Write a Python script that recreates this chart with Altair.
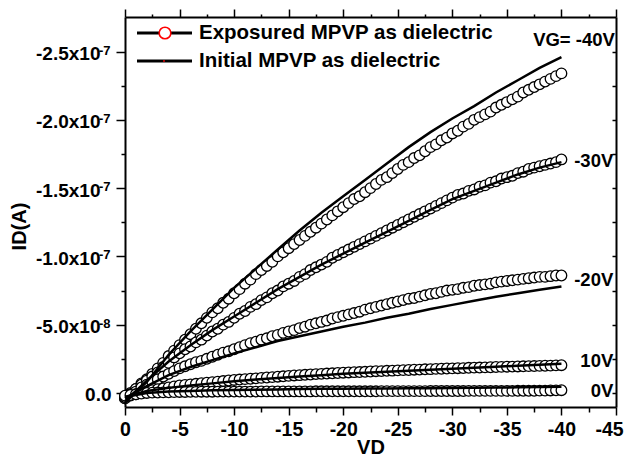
import altair as alt
import pandas as pd

FONT = "Liberation Sans"

# ---------------- data ----------------
# drain voltage sweeps
VD_EXP = [-0.5 * i for i in range(81)]     # 0 ... -40 V, step 0.5 V (circles)
VD_INI = [-2.0 * i for i in range(21)]     # 0 ... -40 V, step 2 V (lines)

# |ID| in nA (positive = current drawn upward, i.e. ID negative)
EXP_M40 = [-4, 0, 3, 7, 10, 14, 18, 22, 27, 31, 35, 39, 43, 47, 51, 55, 59, 62, 66, 69,
           73, 76, 80, 83, 87, 90, 93, 96, 100, 103, 106, 109, 112, 115, 118, 121, 124, 127, 130, 133,
           136, 139, 142, 144, 147, 150, 153, 156, 158, 161, 164, 167, 169, 172, 174, 177, 180, 182, 185, 187,
           190, 192, 195, 197, 200, 202, 204, 206, 209, 211, 213, 215, 217, 220, 222, 224, 226, 228, 230, 232,
           234]
EXP_M30 = [-4, -1, 3, 6, 9, 12, 15, 19, 22, 26, 29, 32, 34, 37, 39, 42, 45, 47, 50, 52,
           55, 58, 60, 63, 65, 68, 70, 73, 75, 78, 80, 82, 85, 87, 90, 92, 94, 96, 99, 101,
           103, 105, 107, 109, 111, 113, 115, 117, 119, 121, 123, 125, 127, 129, 131, 133, 135, 137, 139, 141,
           143, 145, 146, 148, 149, 151, 152, 154, 155, 157, 158, 159, 161, 162, 164, 165, 166, 167, 168, 169,
           171]
EXP_M20 = [-3, -1, 1, 4, 6, 8, 10, 12, 14, 16, 18, 19.5, 21, 22.5, 23.5, 25, 26.5, 28, 29.5, 30.5,
           32, 33.5, 35, 36.5, 37.5, 39, 40, 41.5, 42.5, 44, 45, 46, 47.5, 48.5, 50, 51, 52, 53, 54.5, 55.5,
           56.5, 57.5, 58.5, 59.5, 61, 62, 63, 64, 65, 66, 67, 68, 69, 69.5, 70.5, 71.5, 72.5, 73, 74, 75,
           75.5, 76, 77, 77.5, 78.5, 79, 79.5, 80, 81, 81.5, 82, 82.5, 83, 83.5, 84, 84.5, 85, 85, 85.5, 86,
           86]
EXP_M10 = [-3, -2, -1, 0, 1, 2, 2.7, 3.4, 4.1, 4.8, 5.5, 5.9, 6.3, 6.7, 7.1, 7.5, 7.9, 8.3, 8.7, 9.1,
           9.5, 9.8, 10.1, 10.4, 10.7, 11, 11.3, 11.6, 11.9, 12.2, 12.5, 12.8, 13.0, 13.3, 13.5, 13.8, 14.0, 14.2, 14.4, 14.6,
           14.8, 15.0, 15.2, 15.3, 15.5, 15.7, 15.9, 16.0, 16.2, 16.3, 16.5, 16.7, 16.8, 17.0, 17.1, 17.3, 17.4, 17.6, 17.7, 17.9,
           18.0, 18.1, 18.2, 18.4, 18.5, 18.6, 18.7, 18.8, 19.0, 19.1, 19.2, 19.3, 19.4, 19.5, 19.6, 19.7, 19.8, 19.9, 20.0, 20.2,
           20.3]
EXP_0 = [-2, -1.5, -1, -0.5, 0, 0.2, 0.3, 0.4, 0.5, 0.6, 0.7, 0.7, 0.8, 0.8, 0.9, 0.9, 0.9, 1.0, 1.0, 1.0,
         1.0, 1.0, 1.0, 1.0, 1.0, 1.1, 1.1, 1.1, 1.1, 1.1, 1.1, 1.1, 1.1, 1.1, 1.1, 1.2, 1.2, 1.2, 1.2, 1.2,
         1.2, 1.2, 1.2, 1.2, 1.2, 1.2, 1.2, 1.3, 1.3, 1.3, 1.3, 1.3, 1.3, 1.3, 1.3, 1.3, 1.4, 1.4, 1.4, 1.4,
         1.4, 1.4, 1.4, 1.5, 1.5, 1.5, 1.5, 1.5, 1.5, 1.5, 1.5, 1.5, 1.6, 1.6, 1.6, 1.6, 1.7, 1.7, 1.8, 1.9,
         2.0]

INI_M40 = [-7, 8, 28, 45, 61, 77, 91, 105, 119, 132, 144, 156, 168, 180, 191, 201, 210, 220, 229, 238, 246]
INI_M30 = [-6, 9, 23, 35, 46, 56, 66, 76, 85, 94, 102, 110, 118, 126, 134, 142, 148, 154, 160, 165, 169]
INI_M20 = [-4, 5, 13, 19, 24, 29, 33.5, 38, 41.5, 45, 48.5, 51.5, 55, 58, 61.5, 64.5, 67.5, 70.5, 73, 75.5, 78]
INI_M10 = [-3, 1.5, 3.7, 5.5, 7, 8.5, 9.8, 11, 12, 13, 14, 14.8, 15.6, 16.3, 17, 17.8, 18.5, 19.2, 19.9, 20.6, 21.4]
INI_0 = [-3, 0, 1, 1.5, 1.9, 2.2, 2.4, 2.6, 2.8, 3.0, 3.1, 3.2, 3.3, 3.4, 3.5, 3.6, 3.8, 3.9, 4.1, 4.3, 4.5]

SERIES = ["-40V", "-30V", "-20V", "10V", "0V"]
EXP_VALUES = [EXP_M40, EXP_M30, EXP_M20, EXP_M10, EXP_0]
INI_VALUES = [INI_M40, INI_M30, INI_M20, INI_M10, INI_0]

LEGEND_LABELS = ["Exposured MPVP as dielectric", "Initial MPVP as dielectric"]

ANN_LABELS = ["VG= -40V", "-30V", "-20V", "10V", "0V"]
ANN_VD = [-44.9, -44.75, -44.75, -44.75, -44.75]
ANN_ID = [-2.588e-7, -1.701e-7, -0.825e-7, -0.235e-7, -0.015e-7]

X_TICKS = [-2.5 * i for i in range(19)]
X_MAJOR = [0, -5, -10, -15, -20, -25, -30, -35, -40, -45]
X_LABELS = ["0", "-5", "-10", "-15", "-20", "-25", "-30", "-35", "-40", "-45"]
Y_TICKS = [-2.5e-8 * i for i in range(11)]
Y_MAJOR = [0, -5e-8, -1e-7, -1.5e-7, -2e-7, -2.5e-7]
Y_LABELS = ["0.0", "-5.0x10", "-1.0x10", "-1.5x10", "-2.0x10", "-2.5x10"]
Y_EXPONENTS = ["", "-8", "-7", "-7", "-7", "-7"]

# ---------------- tables ----------------
exp_rows = []
for s, vals in zip(SERIES, EXP_VALUES):
    for vd, m in zip(VD_EXP, vals):
        exp_rows.append({"series": s, "VD": vd, "ID": -m * 1e-9})
exp_df = pd.DataFrame(exp_rows)

ini_rows = []
for s, vals in zip(SERIES, INI_VALUES):
    for vd, m in zip(VD_INI, vals):
        ini_rows.append({"series": s, "VD": vd, "ID": -m * 1e-9})
ini_df = pd.DataFrame(ini_rows)

ann_df = pd.DataFrame({"label": ANN_LABELS, "VD": ANN_VD, "ID": ANN_ID})
legend_df = pd.DataFrame({"label": LEGEND_LABELS})
exp_lab_df = pd.DataFrame({"ID": Y_MAJOR, "exp": Y_EXPONENTS})
exp_lab_df = exp_lab_df[exp_lab_df["exp"] != ""]

# ---------------- axes ----------------
x_label_expr = " : ".join(f"datum.value == {v} ? '{l}'" for v, l in zip(X_MAJOR, X_LABELS)) + " : ''"
y_label_expr = " : ".join(f"round(datum.value * 1e9) == {round(v * 1e9)} ? '{l}'"
                          for v, l in zip(Y_MAJOR, Y_LABELS)) + " : ''"

def x_size(major, minor):
    return {"condition": {"test": "abs(datum.value % 5) < 0.01", "value": major}, "value": minor}

def y_size(major, minor):
    return {"condition": {"test": "abs(round(datum.value * 1e9)) % 50 == 0", "value": major}, "value": minor}

x_scale = alt.Scale(domain=[-45, 0], reverse=True, nice=False, zero=False)
y_scale = alt.Scale(domain=[-2.753e-7, 1.03e-8], reverse=True, nice=False, zero=False)

axis_common = dict(grid=False, domainColor="black", domainWidth=2, tickColor="black", tickWidth=1.5,
                   labelFont=FONT, labelFontWeight="bold", labelColor="black",
                   titleFont=FONT, titleFontSize=20, titleFontWeight="bold", titleColor="black")

x_bottom = alt.Axis(orient="bottom", values=X_TICKS, labelExpr=x_label_expr, tickSize=x_size(8, 5),
                    labelFontSize=19.5, labelPadding=5, labelOverlap=False, labelFlush=False,
                    labelOffset={"condition": {"test": "datum.value == -45", "value": -7}, "value": 0},
                    title="VD", titleBaseline="alphabetic", titleY=46, **axis_common)
y_left = alt.Axis(orient="left", values=Y_TICKS, labelExpr=y_label_expr, tickSize=y_size(9, 4),
                  labelFontSize=19, labelOffset=2,
                  labelPadding={"condition": {"test": "datum.value == 0", "value": 5}, "value": 16},
                  labelOverlap=False, labelFlush=False, title="ID(A)",
                  titleX=-100, titleY=209, titleBaseline="alphabetic", titleAngle=270, **axis_common)
x_top = alt.Axis(orient="top", values=X_TICKS, labels=False, tickSize=x_size(8, 3), title=None, **axis_common)
y_right = alt.Axis(orient="left", offset=-491, values=Y_TICKS, labels=False, tickSize=4, title=None, **axis_common)

points = alt.Chart(exp_df).mark_point(
    shape="circle", size=112, filled=True, fill="white", stroke="black", strokeWidth=1.3, opacity=1
).encode(
    x=alt.X("VD:Q", scale=x_scale, axis=x_bottom),
    y=alt.Y("ID:Q", scale=y_scale, axis=y_left),
)

lines = alt.Chart(ini_df).mark_line(color="black", strokeWidth=2.5).encode(
    x=alt.X("VD:Q", axis=x_top),
    y=alt.Y("ID:Q", axis=y_right),
    detail="series:N",
)

ann = alt.Chart(ann_df).mark_text(
    align="right", baseline="middle", font=FONT, fontSize=18.5, fontWeight="bold", color="black"
).encode(
    x=alt.X("VD:Q", axis=None),
    y=alt.Y("ID:Q", axis=None),
    text="label:N",
)

# superscript exponents of the y tick labels
sup = alt.Chart(exp_lab_df).mark_text(
    align="left", baseline="middle", font=FONT, fontSize=13, fontWeight="bold", color="black", dy=-1
).encode(
    x=alt.value(-26),
    y=alt.Y("ID:Q", axis=None),
    text="exp:N",
)

leg_layers = []
for i, lab in enumerate(LEGEND_LABELS):
    yy = 16 + 28 * i
    base = alt.Chart(legend_df).transform_filter(alt.datum.label == lab)
    leg_layers.append(base.mark_rule(color="black", strokeWidth=3).encode(
        x=alt.value(12), x2=alt.value(67), y=alt.value(yy)))
    if i == 0:
        leg_layers.append(base.mark_point(shape="circle", size=135, filled=True, fill="white",
                                          stroke="red", strokeWidth=1.6, opacity=1).encode(
            x=alt.value(40), y=alt.value(yy)))
    else:
        leg_layers.append(base.mark_point(shape="square", size=3, filled=True, color="red", opacity=1).encode(
            x=alt.value(39), y=alt.value(yy)))
    leg_layers.append(base.mark_text(align="left", baseline="middle", font=FONT, fontSize=20.5,
                                     fontWeight="bold", color="black").encode(
        x=alt.value(74), y=alt.value(yy), text="label:N"))

chart = alt.layer(points, lines, ann, sup, *leg_layers).resolve_axis(
    x="independent", y="independent"
).properties(
    width=491, height=390,
    autosize=alt.AutoSizeParams(type="none"),
    padding={"left": 117, "top": 9, "right": 8, "bottom": 51},
).configure_view(stroke=None)

chart.save("out.html", embed_options={"renderer": "svg", "actions": False})
